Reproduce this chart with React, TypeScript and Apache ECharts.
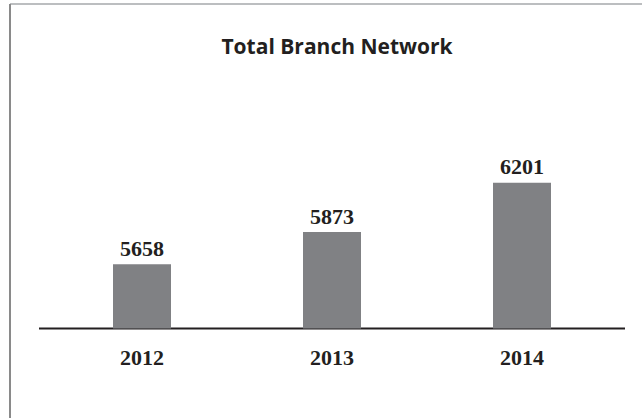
import React, { useEffect, useRef } from "react";
import * as echarts from "echarts";

const categories = ["2012", "2013", "2014"];
const branchCounts = [5658, 5873, 6201];
const titleText = "Total Branch Network";

export default function App() {
  const ref = useRef<HTMLDivElement>(null);
  useEffect(() => {
    if (!ref.current) return;
    const chart = echarts.init(ref.current, null, { renderer: "svg" });
    chart.setOption({
      animation: false,
      backgroundColor: "#ffffff",
      title: {
        text: titleText,
        left: 332,
        textAlign: "center",
        top: 30,
        textStyle: {
          fontFamily: "Open Sans",
          fontWeight: "bold",
          fontSize: 21,
          color: "#231f20",
        },
      },
      grid: { left: 47, right: 25, top: 137.8, bottom: 89.5 },
      xAxis: {
        type: "category",
        data: categories,
        axisLine: { show: false },
        axisTick: { show: false },
        axisLabel: {
          margin: 18,
          fontFamily: "Liberation Serif",
          fontWeight: "bold",
          fontSize: 22,
          color: "#231f20",
        },
      },
      yAxis: {
        type: "value",
        min: 5231,
        max: 6500,
        show: false,
        splitLine: { show: false },
      },
      series: [
        {
          type: "bar",
          data: branchCounts,
          barWidth: 58,
          itemStyle: { color: "#808184" },
          label: {
            show: true,
            position: "top",
            distance: 5,
            fontFamily: "Liberation Serif",
            fontWeight: "bold",
            fontSize: 22,
            color: "#231f20",
          },
        },
      ],
      graphic: [
        {
          type: "line",
          shape: { x1: 10, y1: 4, x2: 642, y2: 4 },
          style: { stroke: "#bcbec0", lineWidth: 2 },
        },
        {
          type: "line",
          shape: { x1: 10, y1: 4, x2: 10, y2: 418 },
          style: { stroke: "#8a8a8a", lineWidth: 2 },
        },
        {
          type: "line",
          shape: { x1: 39, y1: 328.5, x2: 625, y2: 328.5 },
          style: { stroke: "#231f20", lineWidth: 2 },
        },
      ],
    });
    return () => chart.dispose();
  }, []);
  return (
    <div
      ref={ref}
      style={{ position: "absolute", left: 0, top: 0, width: 642, height: 418 }}
    />
  );
}
